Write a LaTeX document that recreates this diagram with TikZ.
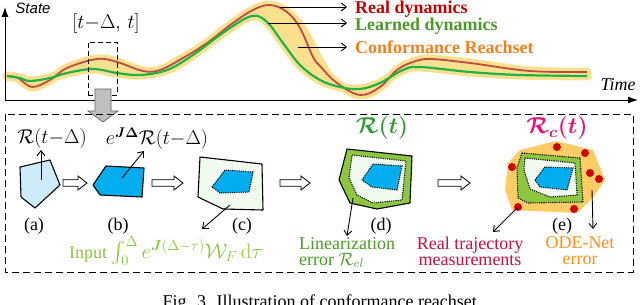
\documentclass[tikz,border=0pt]{standalone}
\usepackage{fix-cm}
\usepackage{amsmath,amssymb,bm}
\usepackage[no-math]{fontspec}
\setmainfont{Liberation Serif}
\newfontfamily\sansfam{Liberation Sans}
\usetikzlibrary{arrows.meta}
\definecolor{realred}{HTML}{BF4A45}
\definecolor{learngreen}{HTML}{1BB34A}
\definecolor{bandyellow}{HTML}{FDE08D}
\definecolor{legred}{HTML}{C00000}
\definecolor{leggreen}{HTML}{4C9A2A}
\definecolor{legorange}{HTML}{F08122}
\definecolor{lightblue}{HTML}{CDEBFB}
\definecolor{midblue}{HTML}{00AEEF}
\definecolor{palegreen}{HTML}{F0FAEE}
\definecolor{limegreen}{HTML}{8DC63F}
\definecolor{inputgreen}{HTML}{8DC63F}
\definecolor{rtgreen}{HTML}{3A9A3A}
\definecolor{rcmag}{HTML}{E2127A}
\definecolor{crimson}{HTML}{C8103E}
\definecolor{odeorange}{HTML}{F7941D}
\definecolor{bloborange}{HTML}{FFCC66}
\definecolor{dotred}{HTML}{CC0000}
\definecolor{greyarrow}{HTML}{BFBFBF}
\tikzset{
  lbl/.style={font=\fontsize{18}{20}\selectfont, inner sep=0pt},
  mlbl/.style={font=\fontsize{20}{22}\selectfont, inner sep=0pt},
  shapeline/.style={draw=black, line width=1.1pt, line join=round},
  dotline/.style={draw=black, line width=1.1pt, dash pattern=on 1.1pt off 1.1pt},
  thinarrow/.style={draw=black, line width=0.9pt, -{Straight Barb[length=5pt,width=8pt]}},
  blockarr/.style={draw=black, line width=0.8pt, fill=white, line join=miter},
  band/.style={draw=bandyellow, line width=9pt, line cap=round, line join=round},
}
\newcommand\blockarrow[3]{%
  \path[blockarr] (#1,{#3-3.2}) -- ({#2-9},{#3-3.2}) -- ({#2-9},{#3-7}) -- (#2,#3) -- ({#2-9},{#3+7}) -- ({#2-9},{#3+3.2}) -- (#1,{#3+3.2}) -- cycle;}
\begin{document}
\begin{tikzpicture}[x=1pt,y=-1pt]
\useasboundingbox (0,0) rectangle (640,305);
\fill[white] (0,0) rectangle (640,305);
% ---------- top plot ----------
\def\redpts{(7,76) (18,78) (32,87) (50,80) (67,68) (97,59) (117,62) (143,71) (160,70) (183,58) (207,43) (233,23) (253,10) (270,5) (287,12) (300,28) (313,57) (320,66) (337,83) (360,95) (380,87) (397,70) (413,62) (430,59) (470,63) (530,71) (587,72)}
\def\greenpts{(7,76) (20,78) (30,81) (50,78) (67,73) (93,69) (117,73) (140,75) (167,70) (193,55) (227,30) (252,16) (267,22) (283,43) (300,65) (320,80) (340,87) (360,89) (380,83) (403,70) (420,67) (470,72) (520,75) (587,76)}
\def\greenrev{(587,76) (520,75) (470,72) (420,67) (403,70) (380,83) (360,89) (340,87) (320,80) (300,65) (283,43) (267,22) (252,16) (227,30) (193,55) (167,70) (140,75) (117,73) (93,69) (67,73) (50,78) (30,81) (20,78) (7,76)}
\fill[bandyellow] plot[smooth, tension=0.6] coordinates {\redpts} -- plot[smooth, tension=0.6] coordinates {\greenrev} -- cycle;
\draw[band] plot[smooth, tension=0.6] coordinates {\redpts};
\draw[band] plot[smooth, tension=0.6] coordinates {\greenpts};
\draw[band, line width=7pt] plot[smooth, tension=0.6] coordinates {(285,12) (300,24) (312,44) (320,60) (330,76)};
\draw[realred, line width=1.8pt] plot[smooth, tension=0.6] coordinates {\redpts};
\draw[learngreen, line width=2.2pt] plot[smooth, tension=0.6] coordinates {\greenpts};
% axes
\coordinate (orig) at (5,100);
\coordinate (ytip) at (5,7);
\coordinate (xtip) at (638,100);
\draw[line width=1pt, -{Latex[length=10pt,width=7pt]}] (orig) -- (ytip);
\draw[line width=1pt, -{Latex[length=10pt,width=7pt]}] (orig) -- (xtip);
\node[font=\sansfam\itshape\fontsize{15}{17}\selectfont, inner sep=0pt] (state) at (33,8) {State};
\node[lbl, font=\itshape\fontsize{18}{20}\selectfont] (time) at (618,85) {Time};
% window
\node[draw=black, line width=0.9pt, dash pattern=on 5pt off 3pt, minimum width=29pt, minimum height=53pt, inner sep=0pt] (win) at (102.5,68.5) {};
\node[mlbl] (winlbl) at (106,24) {$[t{-}\Delta,\,t]$};
% legend
\node[lbl, anchor=west, font=\bfseries\fontsize{18}{20}\selectfont, text=legred] (lreal) at (355,9.5) {Real dynamics};
\node[lbl, anchor=west, font=\bfseries\fontsize{18}{20}\selectfont, text=leggreen] (llearn) at (355,26) {Learned dynamics};
\node[lbl, anchor=west, font=\bfseries\fontsize{18}{20}\selectfont, text=legorange] (lconf) at (355,47) {Conformance Reachset};
\coordinate (sreal) at (280,7);
\coordinate (slearn) at (268,23);
\coordinate (sconf) at (298,47);
\draw[thinarrow] (sreal) -- ([xshift=-8pt]lreal.west |- sreal);
\draw[thinarrow] (slearn) -- ([xshift=-8pt]llearn.west |- slearn);
\draw[thinarrow] (sconf) -- ([xshift=-8pt]lconf.west |- sconf);
% grey arrow
\path[fill=greyarrow, draw=black!60, line width=0.7pt] (95,89) -- (111,89) -- (111,111) -- (118,111) -- (103,122) -- (88,111) -- (95,111) -- cycle;
% ---------- bottom panel ----------
\draw[line width=0.9pt, dash pattern=on 7pt off 4pt] (5,114) rectangle (633,272);
% (a)
\path[shapeline, fill=lightblue] (20,167) -- (50,160) -- (60,185) -- (35,208) -- (21,197) -- cycle;
\coordinate (aS) at (41,180);
\node[mlbl] (aR) at (52,139) {$\mathcal{R}(t{-}\Delta)$};
\draw[thinarrow] (aS) -- (41,150);
\node[lbl] (alab) at (34,226) {(a)};
\blockarrow{63}{87}{183}
% (b)
\path[shapeline, fill=midblue] (93,185) -- (106,166) -- (144,168) -- (142,197) -- (100,195) -- cycle;
\coordinate (bS) at (122,178);
\node[mlbl] (bR) at (157,139) {$e^{\bm{J}\bm{\Delta}}\mathcal{R}(t{-}\Delta)$};
\draw[thinarrow] (bS) -- (144,151);
\node[lbl] (blab) at (118,226) {(b)};
\blockarrow{152}{183}{183}
% (c)
\path[shapeline, fill=palegreen] (200,157) -- (262,164) -- (263,210) -- (223,209) -- (198,197) -- cycle;
\path[fill=midblue] (212,187) -- (225,170) -- (253,172) -- (249,192) -- (220,193) -- cycle;
\draw[dotline] (212,187) -- (225,170) -- (253,172) -- (249,192) -- (220,193) -- cycle;
\coordinate (cS) at (230,205);
\coordinate (cE) at (202,229);
\draw[thinarrow] (cS) -- (cE);
\node[lbl] (clab) at (242,226) {(c)};
\node[lbl, text=inputgreen, anchor=base] (inp) at (166,258) {Input {\fontsize{21}{23}\selectfont$\int_0^{\Delta} e^{\bm{J}(\Delta-\tau)}\mathcal{W}_F\,\mathrm{d}\tau$}};
\blockarrow{280}{310}{183}
% (d)
\path[shapeline, fill=limegreen] (347,149) -- (412,156) -- (410,203) -- (377,209) -- (350,203) -- (339,180) -- cycle;
\path[fill=palegreen] (352,155) -- (406,161) -- (402,200) -- (373,203) -- (357,195) -- (349,178) -- cycle;
\draw[dotline] (352,155) -- (406,161) -- (402,200) -- (373,203) -- (357,195) -- (349,178) -- cycle;
\path[fill=midblue] (362,180) -- (373,164) -- (402,166) -- (397,190) -- (372,187) -- cycle;
\draw[dotline] (362,180) -- (373,164) -- (402,166) -- (397,190) -- (372,187) -- cycle;
\node[lbl, text=rtgreen, font=\fontsize{23}{25}\selectfont] (dR) at (382,128) {$\bm{\mathcal{R}(t)}$};
\coordinate (dS) at (353,198);
\draw[thinarrow] (dS) -- (347,236);
\node[lbl] (dlab) at (381,226) {(d)};
\node[lbl, text=leggreen, anchor=north west, align=left, font=\fontsize{18}{16}\selectfont] (lin) at (299,237) {Linearization\\error $\mathcal{R}_{el}$};
\blockarrow{438}{470}{183}
% (e)
\path[fill=bloborange] (508,163) -- (520,150) -- (556,141) -- (593,150) -- (605,180) -- (592,199) -- (577,213) -- (512,210) -- (505,190) -- cycle;
\path[fill=limegreen] (522,153) -- (580,158) -- (583,202) -- (528,203) -- (518,198) -- (517,168) -- cycle;
\draw[dotline] (522,153) -- (580,158) -- (583,202) -- (528,203) -- (518,198) -- (517,168) -- cycle;
\path[fill=palegreen] (525,158) -- (575,163) -- (577,195) -- (550,197) -- (530,189) -- (524,170) -- cycle;
\draw[dotline] (525,158) -- (575,163) -- (577,195) -- (550,197) -- (530,189) -- (524,170) -- cycle;
\path[fill=midblue] (535,180) -- (545,167) -- (573,168) -- (567,190) -- (540,187) -- cycle;
\draw[dotline] (535,180) -- (545,167) -- (573,168) -- (567,190) -- (540,187) -- cycle;
\foreach \p/\q in {557/147, 585/153, 512/167, 590/173, 599/179, 518/207, 574/209}
  \fill[dotred] (\p,\q) circle (4pt);
\coordinate (eS1) at (518,207);
\coordinate (eS2) at (592,190);
\node[lbl, text=rcmag, font=\fontsize{23}{25}\selectfont] (eR) at (557,128) {$\bm{\mathcal{R}_c(t)}$};
\draw[thinarrow] (eS1) -- (493,232);
\draw[thinarrow] (eS2) -- (593,229);
\node[lbl] (elab) at (562,226) {(e)};
\node[lbl, text=crimson, align=center, font=\fontsize{18}{16}\selectfont] (meas) at (470,251) {Real trajectory\\measurements};
\node[lbl, text=odeorange, align=center, font=\fontsize{18}{16}\selectfont] (ode) at (580,251) {ODE-Net\\error};
% caption
\node[lbl, anchor=base] (cap) at (322,307) {Fig. 3. Illustration of conformance reachset.};
\end{tikzpicture}
\end{document}
